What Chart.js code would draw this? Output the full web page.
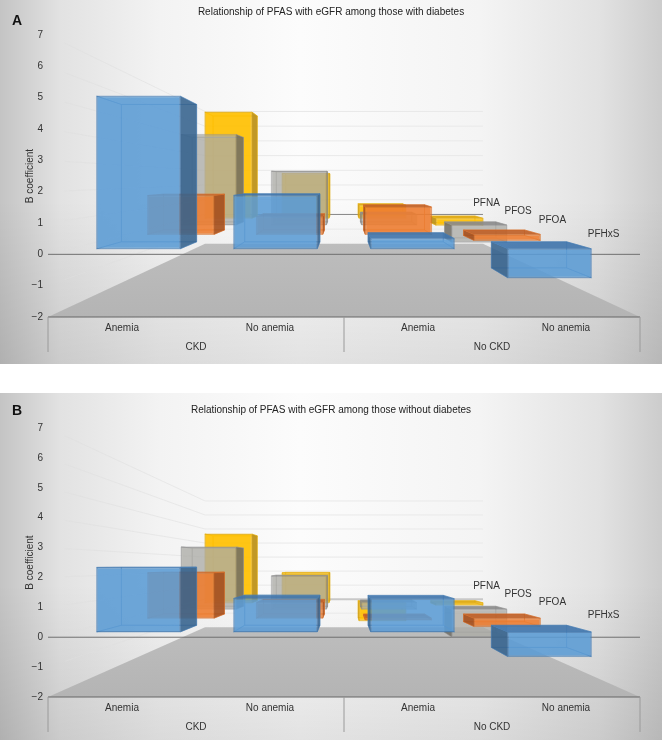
<!DOCTYPE html>
<html>
<head>
<meta charset="utf-8">
<title>PFAS and eGFR</title>
<script src="https://cdn.jsdelivr.net/npm/chart.js@4/dist/chart.umd.js"></script>
<style>
  html, body { margin: 0; background: #fff; }
  canvas { position: absolute; left: 0; display: block;
    background:
      linear-gradient(to bottom, rgba(0,0,0,0) 55%, rgba(0,0,0,0.1) 100%),
      linear-gradient(to right, #c4c4c4 0, #e2e2e2 60px, #f3f3f3 160px, #fcfcfc 300px, #f4f4f4 480px, #e2e2e2 600px, #cccccc 662px); }
  #chartA { top: 0; }
  #chartB { top: 393px; }
</style>
</head>
<body>
<canvas id="chartA" width="662" height="364"></canvas>
<canvas id="chartB" width="662" height="347"></canvas>
<script>
const categories = ['Anemia', 'No anemia', 'Anemia', 'No anemia'];
const groups = ['CKD', 'No CKD'];
const seriesNames = ['PFHxS', 'PFOA', 'PFOS', 'PFNA'];

// B coefficients, same order as categories
const withDiabetesPFHxS = [5.26, 1.84, 0.35, -1.0];
const withDiabetesPFOA = [1.69, 0.77, 1.19, -0.26];
const withDiabetesPFOS = [4.74, 2.82, 0.55, -0.9];
const withDiabetesPFNA = [6.51, 2.75, 0.8, -0.43];

const withoutDiabetesPFHxS = [2.33, 1.21, 1.2, -0.89];
const withoutDiabetesPFOA = [2.07, 0.72, -0.08, -0.38];
const withoutDiabetesPFOS = [3.42, 1.83, 0.37, -1.53];
const withoutDiabetesPFNA = [4.42, 1.93, -1.15, -0.15];

const faceColors = ['rgba(91,155,213,0.85)', 'rgba(237,125,49,0.88)', 'rgba(170,170,165,0.72)', 'rgba(255,192,0,0.9)'];
const edgeColors = ['rgba(70,125,180,0.8)', 'rgba(215,110,40,0.8)', 'rgba(150,150,150,0.7)', 'rgba(230,175,15,0.8)'];
const sideColors = ['rgba(52,96,140,0.85)', 'rgba(165,80,30,0.9)', 'rgba(110,108,100,0.85)', 'rgba(190,148,30,0.95)'];
const topColors = ['rgba(65,118,172,0.9)', 'rgba(190,95,40,0.9)', 'rgba(138,138,138,0.9)', 'rgba(222,170,20,0.95)'];

// Fake Excel 3D view: everything is pushed back by 1/depth towards an eye point
const eyeValue = 2.4;
const firstDepth = 1.08;
const depthStep = 0.28;
const barDepth = 0.12;
const floorDepth = 2.13;
const labelLift = [0, 3, 5, 8]; // series names do not quite follow the perspective
const labelShift = [0, 0, 0, 7];

function getEye(chart) {
  const area = chart.chartArea;
  return { x: (area.left + area.right) / 2, y: chart.scales.y.getPixelForValue(eyeValue) };
}

function project(eye, x, y, depth) {
  return [eye.x + (x - eye.x) / depth, eye.y + (y - eye.y) / depth];
}

function fillQuad(ctx, points, fill, stroke) {
  ctx.beginPath();
  points.forEach((p, i) => (i ? ctx.lineTo(p[0], p[1]) : ctx.moveTo(p[0], p[1])));
  ctx.closePath();
  ctx.fillStyle = fill;
  ctx.fill();
  if (stroke) {
    ctx.strokeStyle = stroke;
    ctx.lineWidth = 0.6;
    ctx.stroke();
  }
}

function drawLine(ctx, a, b, color, width) {
  ctx.beginPath();
  ctx.moveTo(a[0], a[1]);
  ctx.lineTo(b[0], b[1]);
  ctx.strokeStyle = color;
  ctx.lineWidth = width;
  ctx.stroke();
}

const depthPlugin = {
  id: 'depthPlugin',

  // Move the bars the library laid out onto their depth plane
  afterDatasetsUpdate(chart) {
    const eye = getEye(chart);
    chart.data.datasets.forEach((dataset, index) => {
      const depth = firstDepth + depthStep * index;
      chart.getDatasetMeta(index).data.forEach(bar => {
        bar.flat = { x: bar.x, y: bar.y, base: bar.base, width: bar.width };
        bar.x = eye.x + (bar.flat.x - eye.x) / depth;
        bar.y = project(eye, 0, bar.flat.y, depth)[1];
        bar.base = project(eye, 0, bar.flat.base, depth)[1];
        bar.width = bar.flat.width / depth;
      });
    });
  },

  // Floor, walls and gridlines
  beforeDatasetsDraw(chart, args, options) {
    const ctx = chart.ctx;
    const eye = getEye(chart);
    const yScale = chart.scales.y;
    const { left, right, bottom } = chart.chartArea;

    const floorBack = project(eye, left, bottom, floorDepth);
    const floorBackRight = project(eye, right, bottom, floorDepth);
    const floorFill = ctx.createLinearGradient(0, floorBack[1], 0, bottom);
    floorFill.addColorStop(0, '#bdbdbd');
    floorFill.addColorStop(1, '#b4b4b4');

    yScale.ticks.forEach(tick => {
      if (tick.value < -1) return;
      const y = yScale.getPixelForValue(tick.value);
      const front = project(eye, left, y, 1.06);
      const back = project(eye, left, y, floorDepth);
      const backRight = project(eye, right, y, floorDepth);
      drawLine(ctx, front, back, 'rgba(222,222,222,0.55)', 1);
      if (tick.value === 0) {
        drawLine(ctx, back, backRight, options.backZeroColor, options.backZeroWidth);
      } else {
        drawLine(ctx, back, backRight, '#e9e9e9', 1);
      }
    });

    fillQuad(ctx, [[left, bottom], [right, bottom], floorBackRight, floorBack], floorFill);
    drawLine(ctx, [left, yScale.getPixelForValue(0)], [right, yScale.getPixelForValue(0)], '#6f6f6f', 1);
    drawLine(ctx, [left, bottom], [right, bottom], '#666', 1);

    // dividers of the two level category axis
    const groupScale = chart.scales.x2;
    [-0.5, 0.5, 1.5].forEach(value => {
      const x = groupScale.getPixelForValue(value);
      drawLine(ctx, [x, bottom], [x, bottom + 35], '#9a9a9a', 1);
    });
  },

  // Sides of each box, the library then draws its front face on top
  beforeDatasetDraw(chart, args) {
    const ctx = chart.ctx;
    const eye = getEye(chart);
    const near = firstDepth + depthStep * args.index;
    const far = near + barDepth;
    const side = sideColors[args.index];
    const lid = topColors[args.index];
    const ghost = faceColors[args.index].replace(/[\d.]+\)$/, '0.18)');
    const edge = edgeColors[args.index];

    args.meta.data.forEach(bar => {
      const f = bar.flat;
      const xL = f.x - f.width / 2;
      const xR = f.x + f.width / 2;
      const yT = Math.min(f.y, f.base);
      const yB = Math.max(f.y, f.base);
      const corner = (x, y, depth) => project(eye, x, y, depth);

      const leftFace = [corner(xL, yT, near), corner(xL, yT, far), corner(xL, yB, far), corner(xL, yB, near)];
      const rightFace = [corner(xR, yT, near), corner(xR, yT, far), corner(xR, yB, far), corner(xR, yB, near)];
      const topFace = [corner(xL, yT, near), corner(xR, yT, near), corner(xR, yT, far), corner(xL, yT, far)];
      const bottomFace = [corner(xL, yB, near), corner(xR, yB, near), corner(xR, yB, far), corner(xL, yB, far)];
      const backFace = [corner(xL, yT, far), corner(xR, yT, far), corner(xR, yB, far), corner(xL, yB, far)];

      const faces = [
        { points: leftFace, seen: f.x > eye.x, fill: side },
        { points: rightFace, seen: f.x < eye.x, fill: side },
        { points: topFace, seen: yT > eye.y, fill: lid },
        { points: bottomFace, seen: yB < eye.y, fill: lid }
      ];
      fillQuad(ctx, backFace, ghost, edge);
      faces.filter(face => !face.seen).forEach(face => fillQuad(ctx, face.points, ghost, edge));
      faces.filter(face => face.seen).forEach(face => fillQuad(ctx, face.points, face.fill, edge));
    });
  },

  // Series names sit along the right edge of the floor, plus the panel letter
  afterDatasetsDraw(chart, args, options) {
    const ctx = chart.ctx;
    const eye = getEye(chart);
    const y = chart.scales.y.getPixelForValue(options.labelValue);
    ctx.save();
    ctx.fillStyle = '#333';
    ctx.font = '10px "Liberation Sans"';
    ctx.textAlign = 'center';
    ctx.textBaseline = 'middle';
    chart.data.datasets.forEach((dataset, index) => {
      const depth = firstDepth + depthStep * index + barDepth / 2;
      const p = project(eye, chart.chartArea.right, y, depth);
      ctx.fillText(dataset.label, p[0] - labelShift[index], p[1] - labelLift[index]);
    });
    ctx.fillStyle = '#111';
    ctx.font = 'bold 14px "Liberation Sans"';
    ctx.textAlign = 'left';
    ctx.fillText(options.letter, 12, options.letterY);
    ctx.restore();
  }
};

function makePanel(canvasId, panel, values) {
  const fixedSize = (prop, size) => scale => { scale[prop] = size; };
  const textFont = { family: '"Liberation Sans"', size: 10 };
  const canvas = document.getElementById(canvasId);

  return new Chart(canvas.getContext('2d'), {
    type: 'bar',
    data: {
      labels: categories,
      datasets: seriesNames.map((name, i) => ({
        label: name,
        data: values[i],
        grouped: false,
        clip: false,
        categoryPercentage: 1,
        barPercentage: 0.61,
        backgroundColor: faceColors[i],
        borderColor: edgeColors[i],
        borderWidth: 1,
        borderSkipped: false
      }))
    },
    options: {
      responsive: false,
      animation: false,
      events: [],
      layout: { padding: { left: 22, right: 22 } },
      plugins: {
        legend: { display: false },
        tooltip: { enabled: false },
        title: {
          display: true,
          text: panel.title,
          color: '#222',
          font: { family: '"Liberation Sans"', size: 10, weight: 'normal' },
          padding: { top: panel.titleTop, bottom: 35 - panel.titleTop - 12 }
        },
        depthPlugin: panel
      },
      scales: {
        x: {
          position: 'bottom',
          afterFit: fixedSize('height', 20),
          grid: { display: false, drawTicks: false },
          border: { display: false },
          ticks: { color: '#333', font: textFont, padding: 5, maxRotation: 0 }
        },
        x2: {
          type: 'category',
          labels: groups,
          offset: true,
          position: 'bottom',
          afterFit: fixedSize('height', panel.groupHeight),
          grid: { display: false, drawTicks: false },
          border: { display: false },
          ticks: { color: '#333', font: textFont, padding: 4, maxRotation: 0 }
        },
        y: {
          min: -2,
          max: 7,
          afterFit: fixedSize('width', 26),
          grid: { display: false, drawTicks: false },
          border: { display: false },
          ticks: {
            stepSize: 1,
            color: '#333',
            font: textFont,
            padding: 5,
            callback: value => String(value).replace('-', '\u2212')
          },
          title: {
            display: true,
            text: 'B coefficient',
            color: '#333',
            font: textFont,
            padding: { top: 2, bottom: 0 }
          }
        }
      }
    },
    plugins: [depthPlugin]
  });
}

makePanel('chartA', {
  title: 'Relationship of PFAS with eGFR among those with diabetes',
  letter: 'A', letterY: 21, titleTop: 6, groupHeight: 27, labelValue: 0.38,
  backZeroColor: '#858585', backZeroWidth: 1
}, [withDiabetesPFHxS, withDiabetesPFOA, withDiabetesPFOS, withDiabetesPFNA]);

makePanel('chartB', {
  title: 'Relationship of PFAS with eGFR among those without diabetes',
  letter: 'B', letterY: 18, titleTop: 11, groupHeight: 23, labelValue: 0.5,
  backZeroColor: '#c8c8c8', backZeroWidth: 2
}, [withoutDiabetesPFHxS, withoutDiabetesPFOA, withoutDiabetesPFOS, withoutDiabetesPFNA]);
</script>
</body>
</html>
